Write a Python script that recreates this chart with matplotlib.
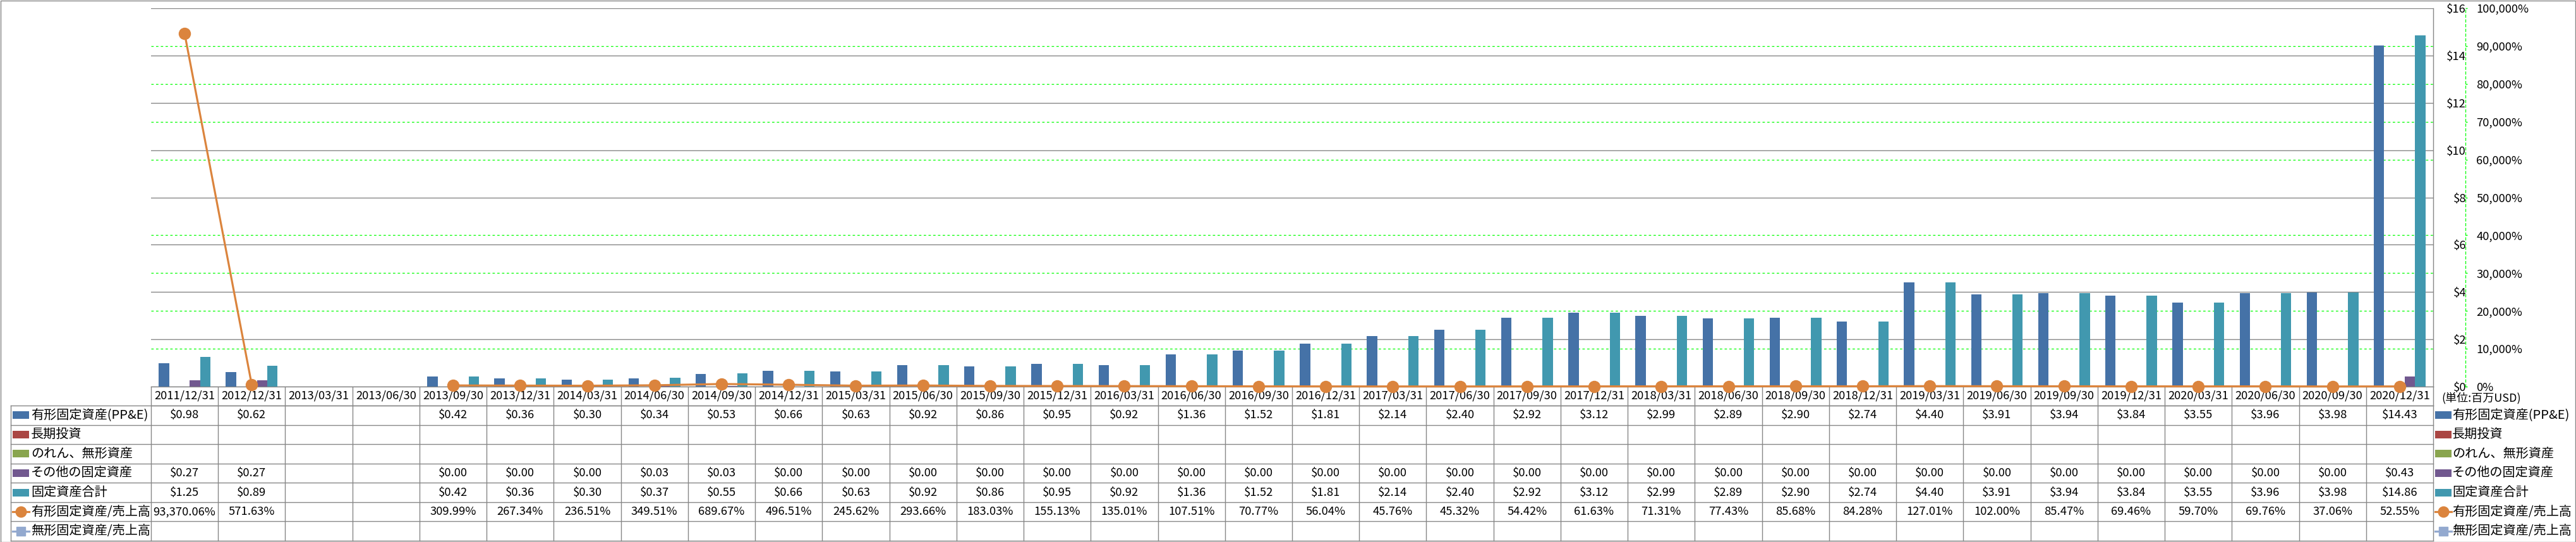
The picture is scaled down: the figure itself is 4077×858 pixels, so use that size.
import numpy as np
import matplotlib
matplotlib.use('Agg')
import matplotlib.pyplot as plt
from matplotlib.patches import Rectangle
from matplotlib.ticker import FuncFormatter, MultipleLocator

plt.rcParams['font.family'] = ['Noto Sans CJK JP', 'DejaVu Sans']

# data (単位: 百万USD)
dates = ['2011/12/31', '2012/12/31', '2013/03/31', '2013/06/30', '2013/09/30', '2013/12/31',
         '2014/03/31', '2014/06/30', '2014/09/30', '2014/12/31', '2015/03/31', '2015/06/30',
         '2015/09/30', '2015/12/31', '2016/03/31', '2016/06/30', '2016/09/30', '2016/12/31',
         '2017/03/31', '2017/06/30', '2017/09/30', '2017/12/31', '2018/03/31', '2018/06/30',
         '2018/09/30', '2018/12/31', '2019/03/31', '2019/06/30', '2019/09/30', '2019/12/31',
         '2020/03/31', '2020/06/30', '2020/09/30', '2020/12/31']
ppe = [0.98, 0.62, None, None, 0.42, 0.36, 0.30, 0.34, 0.53, 0.66, 0.63, 0.92,
       0.86, 0.95, 0.92, 1.36, 1.52, 1.81, 2.14, 2.40, 2.92, 3.12, 2.99, 2.89,
       2.90, 2.74, 4.40, 3.91, 3.94, 3.84, 3.55, 3.96, 3.98, 14.43]
lt_invest = [None] * 34
goodwill = [None] * 34
other = [0.27, 0.27, None, None, 0.00, 0.00, 0.00, 0.03, 0.03, 0.00, 0.00, 0.00,
         0.00, 0.00, 0.00, 0.00, 0.00, 0.00, 0.00, 0.00, 0.00, 0.00, 0.00, 0.00,
         0.00, 0.00, 0.00, 0.00, 0.00, 0.00, 0.00, 0.00, 0.00, 0.43]
total = [1.25, 0.89, None, None, 0.42, 0.36, 0.30, 0.37, 0.55, 0.66, 0.63, 0.92,
         0.86, 0.95, 0.92, 1.36, 1.52, 1.81, 2.14, 2.40, 2.92, 3.12, 2.99, 2.89,
         2.90, 2.74, 4.40, 3.91, 3.94, 3.84, 3.55, 3.96, 3.98, 14.86]
ppe_ratio = [93370.06, 571.63, None, None, 309.99, 267.34, 236.51, 349.51, 689.67, 496.51,
             245.62, 293.66, 183.03, 155.13, 135.01, 107.51, 70.77, 56.04, 45.76, 45.32,
             54.42, 61.63, 71.31, 77.43, 85.68, 84.28, 127.01, 102.00, 85.47, 69.46,
             59.70, 69.76, 37.06, 52.55]
intangible_ratio = [None] * 34

names = ['有形固定資産(PP&E)', '長期投資', 'のれん、無形資産', 'その他の固定資産',
         '固定資産合計', '有形固定資産/売上高', '無形固定資産/売上高']
colors = ['#4572A7', '#AA4643', '#89A54E', '#71588F', '#4198AF', '#DB843D', '#93A9CF']


def arr(vals):
    return np.array([np.nan if v is None else v for v in vals], dtype=float)


W, H = 4077, 858
PL, PR, PT, PB = 239, 3851, 13, 612
GRAY = '#868686'
GREEN = '#00FF00'
FS = 13.3      # numbers, dates, axis labels
FS_JP = 14.5   # row / legend names

fig = plt.figure(figsize=(W / 100, H / 100), dpi=100)
ax = fig.add_axes([PL / W, 1 - PB / H, (PR - PL) / W, (PB - PT) / H])

n = len(dates)
x = np.arange(n)
bw = 0.154
bar_series = [ppe, lt_invest, goodwill, other, total]
for k, vals in enumerate(bar_series):
    ax.bar(x + (k - 2) * bw, arr(vals), width=bw, color=colors[k], zorder=3)

ax.set_xlim(-0.5, n - 0.5)
ax.set_ylim(0, 16)
ax.set_xticks([])
for s in ['left', 'top']:
    ax.spines[s].set_visible(False)
for s in ['right', 'bottom']:
    ax.spines[s].set_color(GRAY)
    ax.spines[s].set_linewidth(1.0)

# ratio line on secondary axis
ax2 = ax.twinx()
ax2.plot(x, arr(ppe_ratio), color=colors[5], lw=2.3, marker='o', ms=13,
         clip_on=False, zorder=5)
ax2.plot(x, arr(intangible_ratio), color=colors[6], lw=2.3, marker='s', ms=11,
         clip_on=False, zorder=5)
ax2.set_ylim(0, 100000)
ax2.yaxis.set_major_locator(MultipleLocator(10000))
ax2.yaxis.set_major_formatter(FuncFormatter(lambda v, p: f'{int(round(v)):,}%'))
ax2.tick_params(axis='y', direction='out', length=2.5, width=1, color=GREEN,
                pad=10, labelsize=FS)
for s in ['left', 'top', 'bottom']:
    ax2.spines[s].set_visible(False)
ax2.spines['right'].set_position(('outward', 36.7))
ax2.spines['right'].set_color(GREEN)
ax2.spines['right'].set_linestyle((0, (3, 3)))
ax2.spines['right'].set_linewidth(0.9)

# primary $ axis: labels on the right, ending just before the % axis line
ax.yaxis.set_major_locator(MultipleLocator(2))
ax.yaxis.set_minor_locator(MultipleLocator(1.6))
ax.yaxis.set_major_formatter(FuncFormatter(lambda v, p: f'${v:.0f}'))
ax.grid(axis='y', which='major', color=GRAY, lw=1.0, zorder=1)
ax.grid(axis='y', which='minor', color=GREEN, lw=0.9, linestyle=(0, (3, 3)), zorder=1)
ax.set_axisbelow(True)
ax.tick_params(axis='y', which='both', left=False, right=False, labelleft=False,
               labelright=True, pad=34, labelsize=FS)
for t in ax.yaxis.get_major_ticks():
    t.label2.set_horizontalalignment('right')

# data table under the plot
tab = fig.add_axes([0, 0, 1, (H - PB) / H])
tab.set_zorder(-1)
tab.patch.set_visible(False)
unit = (PR - PL) / n
tab.set_xlim(-0.5 - PL / unit, n - 0.5 + (W - PR) / unit)
tab.set_ylim(H, PB)
tab.axis('off')

def px(d):
    return d / unit

xl = -0.5 - px(PL - 17)
xr = n - 0.5
head_b = 642
row_h = (856 - head_b) / 7
lc = dict(color=GRAY, lw=1.0)

tab.plot([-0.5, xr], [head_b, head_b], **lc)
for r in range(8):
    yy = head_b + r * row_h
    tab.plot([xl, xr], [yy, yy], **lc)
tab.plot([xl, xl], [head_b, 856], **lc)
for i in range(n + 1):
    tab.plot([i - 0.5, i - 0.5], [PB, 856], **lc)

for i, d in enumerate(dates):
    tab.text(i, (PB + head_b) / 2, d, ha='center', va='center', fontsize=FS)

table_rows = [ppe, lt_invest, goodwill, other, total, ppe_ratio, intangible_ratio]
for r, vals in enumerate(table_rows):
    yc = head_b + (r + 0.5) * row_h
    for i, v in enumerate(vals):
        if v is None:
            continue
        s = f'{v:,.2f}%' if r >= 5 else f'${v:.2f}'
        tab.text(i, yc, s, ha='center', va='center', fontsize=FS)


def legend_key(x0, yc, k):
    if k < 5:
        tab.add_patch(Rectangle((x0, yc - 6), px(26), 12, color=colors[k], lw=0))
    else:
        tab.plot([x0, x0 + px(26)], [yc, yc], color=colors[k], lw=2.3)
        tab.plot([x0 + px(13)], [yc], marker='o' if k == 5 else 's',
                 ms=12 if k == 5 else 10, color=colors[k])


for r, name in enumerate(names):
    yc = head_b + (r + 0.5) * row_h
    legend_key(xl + px(3), yc, r)
    tab.text(xl + px(32), yc, name, ha='left', va='center', fontsize=FS_JP)
    legend_key(xr + px(3), yc, r)
    tab.text(xr + px(30), yc, name, ha='left', va='center', fontsize=FS_JP)

tab.text(xr + px(13), 630, '(単位:百万USD)', ha='left', va='center', fontsize=13)

fig.patches.append(Rectangle((0.5 / W, 0.5 / H), 1 - 1.5 / W, 1 - 1.5 / H,
                             transform=fig.transFigure, fill=False, ec=GRAY, lw=1.0))

fig.savefig('out.png', dpi=100)
